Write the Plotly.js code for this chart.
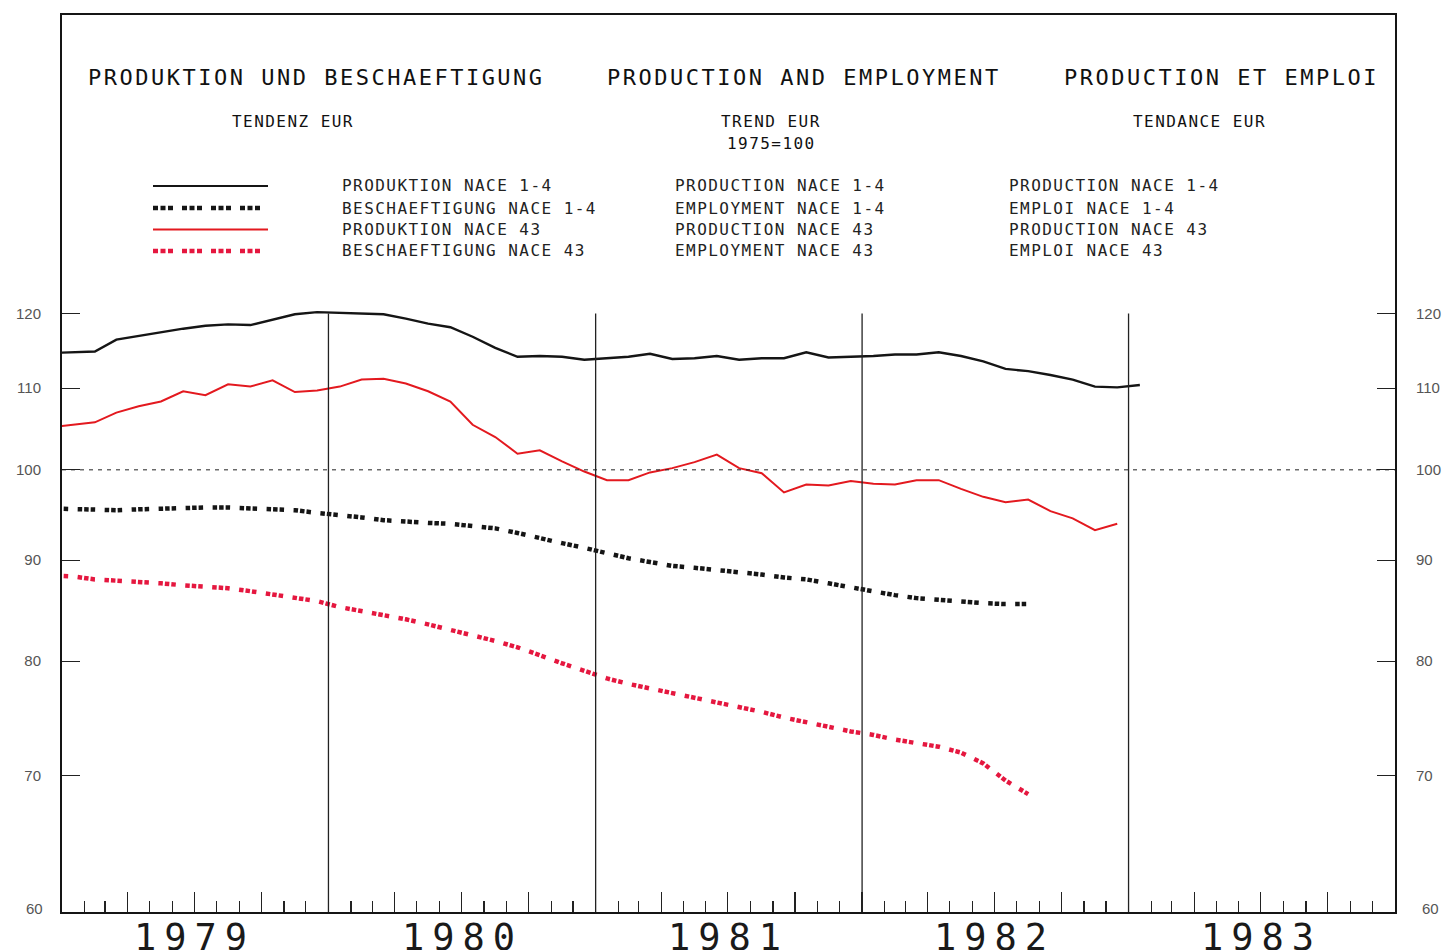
<!DOCTYPE html>
<html>
<head>
<meta charset="utf-8">
<script src="https://cdn.plot.ly/plotly-3.0.1.min.js"></script>
<style>
  html, body { margin: 0; padding: 0; background: #ffffff; }
  #chart { width: 1448px; height: 950px; }
</style>
</head>
<body>
<div id="chart"></div>
<script>
// Months (values are plotted at mid-month)
const months = [
  '1978-12',
  '1979-01','1979-02','1979-03','1979-04','1979-05','1979-06','1979-07','1979-08','1979-09','1979-10','1979-11','1979-12',
  '1980-01','1980-02','1980-03','1980-04','1980-05','1980-06','1980-07','1980-08','1980-09','1980-10','1980-11','1980-12',
  '1981-01','1981-02','1981-03','1981-04','1981-05','1981-06','1981-07','1981-08','1981-09','1981-10','1981-11','1981-12',
  '1982-01','1982-02','1982-03','1982-04','1982-05','1982-06','1982-07','1982-08','1982-09','1982-10','1982-11','1982-12',
  '1983-01'
];

// PRODUKTION NACE 1-4 (1975=100)
const prodNace14 = [
  114.6,
  114.7, 114.8, 116.4, 116.9, 117.4, 117.9, 118.3, 118.5, 118.4, 119.2, 119.9, 120.2,
  120.1, 120.0, 119.9, 119.3, 118.6, 118.1, 116.8, 115.3, 114.1, 114.2, 114.1, 113.7,
  113.9, 114.1, 114.5, 113.8, 113.9, 114.2, 113.7, 113.9, 113.9, 114.7, 114.0, 114.1,
  114.2, 114.4, 114.4, 114.7, 114.2, 113.5, 112.5, 112.2, 111.7, 111.1, 110.2, 110.1,
  110.4
];

// BESCHAEFTIGUNG NACE 1-4
const empNace14 = [
  95.6,
  95.5, 95.4, 95.4, 95.5, 95.6, 95.6, 95.7, 95.7, 95.6, 95.6, 95.4, 95.1,
  94.9, 94.6, 94.3, 94.1, 94.0, 93.9, 93.6, 93.4, 92.9, 92.3, 91.8, 91.3,
  90.7, 90.2, 89.8, 89.4, 89.2, 89.0, 88.7, 88.5, 88.2, 88.0, 87.6, 87.2,
  86.7, 86.4, 86.1, 85.9, 85.8, 85.6, 85.5, 85.5
];

// PRODUKTION NACE 43
const prodNace43 = [
  105.1,
  105.4, 105.7, 106.9, 107.7, 108.3, 109.6, 109.1, 110.5, 110.2, 111.0, 109.5, 109.7,
  110.2, 111.1, 111.2, 110.6, 109.6, 108.3, 105.4, 103.9, 101.9, 102.3, 101.0, 99.8,
  98.8, 98.8, 99.7, 100.2, 100.9, 101.8, 100.2, 99.6, 97.4, 98.3, 98.2, 98.7,
  98.4, 98.3, 98.8, 98.8, 97.8, 96.9, 96.3, 96.6, 95.3, 94.5, 93.2, 93.9
];

// BESCHAEFTIGUNG NACE 43
const empNace43 = [
  88.4,
  88.3, 88.0, 87.9, 87.7, 87.6, 87.4, 87.3, 87.1, 86.8, 86.5, 86.2, 85.8,
  85.2, 84.8, 84.5, 84.0, 83.5, 83.0, 82.5, 81.9, 81.3, 80.5, 79.8, 79.1,
  78.4, 77.9, 77.5, 77.0, 76.6, 76.2, 75.8, 75.4, 74.9, 74.5, 74.1, 73.7,
  73.4, 73.0, 72.7, 72.4, 71.9, 71.0, 69.6, 68.5
];

const yTickVals = [70, 80, 90, 100, 110, 120];
const yTickText = ['70', '80', '90', '100', '110', '120'];
const yBottomLabel = '60';
const yearLabels = ['1979', '1980', '1981', '1982', '1983'];
const yearMid = ['1979-07-02', '1980-07-02', '1981-07-02', '1982-07-02', '1983-07-02'];
const yearBounds = ['1980-01-01', '1981-01-01', '1982-01-01', '1983-01-01'];

const titles = ['PRODUKTION UND BESCHAEFTIGUNG', 'PRODUCTION AND EMPLOYMENT', 'PRODUCTION ET EMPLOI'];
const subtitlesDE = ['TENDENZ EUR'];
const subtitlesEN = ['TREND EUR', '1975=100'];
const subtitlesFR = ['TENDANCE EUR'];
const legendDE = ['PRODUKTION NACE 1-4', 'BESCHAEFTIGUNG NACE 1-4', 'PRODUKTION NACE 43', 'BESCHAEFTIGUNG NACE 43'];
const legendEN = ['PRODUCTION NACE 1-4', 'EMPLOYMENT NACE 1-4', 'PRODUCTION NACE 43', 'EMPLOYMENT NACE 43'];
const legendFR = ['PRODUCTION NACE 1-4', 'EMPLOI NACE 1-4', 'PRODUCTION NACE 43', 'EMPLOI NACE 43'];

// ---- styling / layout helpers ----
const W = 1448, H = 950;
const M = { l: 62, r: 53, t: 15, b: 38 };
const PW = W - M.l - M.r, PH = H - M.t - M.b;
const px = v => (v - M.l) / PW;
const py = v => (H - M.b - v) / PH;

const MONO = 'DejaVu Sans Mono, monospace';
const SANS = 'Liberation Sans, Arial, sans-serif';
const BLACK = '#151515';
const RED = '#e3191f';
const RED_DOT = '#e5173f';
const DOT_DASH = '4.5px,2px,4.5px,2px,4.5px,9.5px';
const LEG_DOT_DASH = '5px,2.5px,5px,2.5px,5px,9px';

const lineStyles = [
  { color: BLACK, width: 2.4, dash: 'solid' },
  { color: BLACK, width: 4.5, dash: DOT_DASH },
  { color: RED, width: 2, dash: 'solid' },
  { color: RED_DOT, width: 4.5, dash: DOT_DASH }
];

const common = { mode: 'lines', x: months, xperiod: 'M1', xperiodalignment: 'middle', hoverinfo: 'skip', showlegend: false };
const traces = [
  Object.assign({}, common, { y: empNace43, line: lineStyles[3], name: legendDE[3] }),
  Object.assign({}, common, { y: empNace14, line: lineStyles[1], name: legendDE[1] }),
  Object.assign({}, common, { y: prodNace43, line: lineStyles[2], name: legendDE[2] }),
  Object.assign({}, common, { y: prodNace14, line: lineStyles[0], name: legendDE[0], yaxis: 'y2' })
];

const sp = (t, ls) => '<span style="letter-spacing:' + ls + 'px">' + t + '</span>';
const ann = [];
function txt(t, x, y, size, ls, anchor, color) {
  ann.push({ text: sp(t, ls), xref: 'paper', yref: 'paper', x: px(x), y: py(y),
    xanchor: anchor || 'left', yanchor: 'middle', align: 'left', showarrow: false,
    font: { family: MONO, size: size, color: color || '#111' } });
}
// titles
[86, 605, 1062].forEach((x, i) => txt(titles[i], x, 77, 22, 2.5));
// subtitles
txt(subtitlesDE[0], 230, 122, 16, 1.45);
txt(subtitlesEN[0], 719, 122, 16, 1.45);
txt(subtitlesEN[1], 725, 143, 16, 1.45);
txt(subtitlesFR[0], 1131, 122, 16, 1.45);
// legend texts
const rowsY = [186, 208, 229.5, 251];
rowsY.forEach((y, i) => {
  txt(legendDE[i], 340, y, 16, 1.45, 'left', '#222');
  txt(legendEN[i], 673, y, 16, 1.45, 'left', '#222');
  txt(legendFR[i], 1007, y, 16, 1.45, 'left', '#222');
});
// year labels
yearLabels.forEach((t, i) => {
  ann.push({ text: sp(t, 8), xref: 'x', yref: 'paper', x: yearMid[i], y: py(937),
    xanchor: 'center', yanchor: 'middle', showarrow: false,
    font: { family: MONO, size: 37, color: '#1a1a1a' } });
});
// bottom "60" labels (no tick mark at this level in the original)
ann.push({ text: yBottomLabel, xref: 'paper', yref: 'paper', x: px(45), y: py(908),
  xanchor: 'right', yanchor: 'middle', showarrow: false, font: { family: SANS, size: 15, color: '#555' } });
ann.push({ text: yBottomLabel, xref: 'paper', yref: 'paper', x: px(1420), y: py(908),
  xanchor: 'left', yanchor: 'middle', showarrow: false, font: { family: SANS, size: 15, color: '#555' } });

const shapes = [];
// dashed 100 reference line
shapes.push({ type: 'line', xref: 'paper', yref: 'y', x0: 0, x1: 1, y0: 100, y1: 100,
  line: { color: '#222', width: 1, dash: '4px,5px' } });
// year boundary verticals
yearBounds.forEach(d => shapes.push({ type: 'line', xref: 'x', yref: 'y', x0: d, x1: d, y0: 59.7, y1: 120,
  line: { color: '#222', width: 1.3 } }));
// legend samples
rowsY.forEach((y, i) => shapes.push({ type: 'line', xref: 'paper', yref: 'paper',
  x0: px(153), x1: px(268), y0: py(y), y1: py(y),
  line: { color: lineStyles[i].color, width: i % 2 ? 4.5 : 2.2, dash: i % 2 ? LEG_DOT_DASH : 'solid' } }));

const yRange = [Math.log10(59.7), Math.log10(170)];
const yCommon = {
  type: 'log', range: yRange, tickmode: 'array', tickvals: yTickVals, ticktext: yTickText,
  ticks: 'inside', ticklen: 18, tickwidth: 1.2, tickcolor: '#222',
  showgrid: false, zeroline: false, fixedrange: true,
  tickfont: { family: SANS, size: 15, color: '#555' }
};

const layout = {
  width: W, height: H,
  margin: M,
  paper_bgcolor: '#ffffff', plot_bgcolor: '#ffffff',
  showlegend: false,
  xaxis: {
    type: 'date', range: ['1979-01-01', '1984-01-01'],
    tickmode: 'linear', tick0: '1979-01-01', dtick: 'M3',
    ticks: 'inside', ticklen: 20, tickwidth: 1.2, tickcolor: '#222',
    showticklabels: false, showgrid: false, zeroline: false,
    showline: true, mirror: true, linecolor: BLACK, linewidth: 2,
    minor: { tick0: '1979-01-01', dtick: 'M1', ticks: 'inside', ticklen: 11, tickwidth: 1.2, tickcolor: '#222', showgrid: false },
    fixedrange: true
  },
  yaxis: Object.assign({}, yCommon, { side: 'left', showline: true, mirror: true, linecolor: BLACK, linewidth: 2, ticklabelstandoff: 16 }),
  yaxis2: Object.assign({}, yCommon, { side: 'right', overlaying: 'y', showline: false, ticklabelstandoff: 20 }),
  annotations: ann,
  shapes: shapes
};

Plotly.newPlot('chart', traces, layout, { staticPlot: true, displayModeBar: false });
</script>
</body>
</html>
